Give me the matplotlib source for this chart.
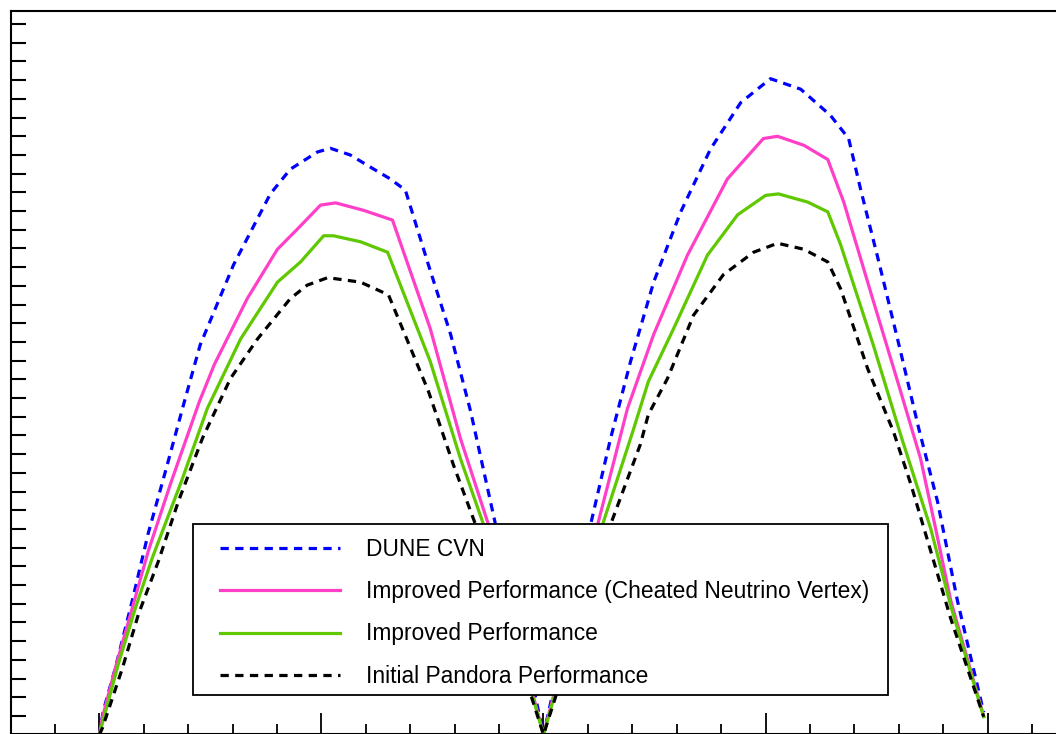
import numpy as np
import matplotlib.pyplot as plt
from matplotlib.patches import Rectangle

plt.rcParams['font.family'] = ['Liberation Sans', 'DejaVu Sans']

# delta_CP / pi  vs  sensitivity (sigma)
x_cvn = [-1.0, -0.991, -0.964, -0.926, -0.890, -0.847, -0.811, -0.773, -0.698, -0.615,
         -0.570, -0.509, -0.480, -0.435, -0.396,
         -0.345, -0.311, -0.259, -0.209, -0.164, -0.108, -0.052, 0.0,
         0.106, 0.151, 0.196, 0.248, 0.309, 0.376, 0.444, 0.511, 0.579, 0.646, 0.687,
         0.714, 0.755, 0.804, 0.845, 0.887, 0.932, 0.991]
y_cvn = [0.0, 0.32, 0.89, 1.79, 2.69, 3.61, 4.40, 5.21, 6.28, 7.23,
         7.56, 7.79, 7.84, 7.75, 7.61,
         7.43, 7.28, 6.28, 5.35, 4.32, 2.81, 1.45, 0.0,
         2.81, 3.96, 4.99, 6.05, 6.99, 7.83, 8.45, 8.77, 8.63, 8.28, 7.97,
         7.29, 6.32, 5.12, 4.09, 3.12, 1.79, 0.30]

x_cheat = [-1.0, -0.993, -0.964, -0.926, -0.890, -0.840, -0.775, -0.741, -0.667, -0.599,
           -0.554, -0.502, -0.468, -0.405,
           -0.340, -0.255, -0.187, -0.124, -0.060, 0.0,
           0.122, 0.189, 0.248, 0.324, 0.414, 0.495, 0.527, 0.586, 0.640, 0.676,
           0.743, 0.804, 0.849, 0.883, 0.917, 0.991]
y_cheat = [0.0, 0.23, 0.89, 1.69, 2.45, 3.35, 4.45, 4.95, 5.83, 6.49,
           6.76, 7.08, 7.11, 7.01,
           6.88, 5.43, 3.96, 2.81, 1.35, 0.0,
           2.81, 4.36, 5.35, 6.41, 7.43, 7.97, 8.00, 7.88, 7.69, 7.12,
           5.79, 4.59, 3.69, 2.75, 1.79, 0.25]

x_impr = [-1.0, -0.957, -0.919, -0.881, -0.815, -0.757, -0.682, -0.599,
          -0.547, -0.495, -0.473, -0.412,
          -0.351, -0.255, -0.187, -0.135, -0.065, 0.0,
          0.133, 0.203, 0.236, 0.293, 0.369, 0.437, 0.500, 0.529, 0.595, 0.640, 0.669,
          0.743, 0.804, 0.872, 0.917, 0.991]
y_impr = [0.0, 0.95, 1.69, 2.36, 3.39, 4.36, 5.29, 6.05,
          6.32, 6.67, 6.67, 6.59,
          6.45, 4.99, 3.69, 2.81, 1.35, 0.0,
          2.81, 4.09, 4.72, 5.43, 6.41, 6.95, 7.21, 7.23, 7.12, 6.99, 6.55,
          5.20, 4.01, 2.75, 1.72, 0.24]

x_init = [-1.0, -0.993, -0.948, -0.912, -0.867, -0.822, -0.768, -0.705, -0.644, -0.570,
          -0.532, -0.486, -0.412, -0.349,
          -0.259, -0.203, -0.153, -0.075, 0.0,
          0.151, 0.218, 0.236, 0.279, 0.338, 0.405, 0.473, 0.527, 0.586, 0.640, 0.669,
          0.730, 0.788, 0.827, 0.854, 0.917, 0.991]
y_init = [0.0, 0.09, 0.89, 1.61, 2.32, 3.12, 3.96, 4.76, 5.29, 5.83,
          6.01, 6.11, 6.05, 5.88,
          4.59, 3.61, 2.81, 1.40, 0.0,
          2.81, 3.88, 4.28, 4.76, 5.61, 6.15, 6.45, 6.57, 6.49, 6.32, 5.96,
          4.89, 4.05, 3.35, 2.81, 1.55, 0.24]

labels = ["DUNE CVN",
          "Improved Performance (Cheated Neutrino Vertex)",
          "Improved Performance",
          "Initial Pandora Performance"]

W, H = 1056, 734
fig = plt.figure(figsize=(W / 100, H / 100), dpi=100)
# frame is cropped: right spine lies outside the picture
ax = fig.add_axes([10.5 / W, 0.5 / H, 1066 / W, 722.5 / H])

lw = 2.3
ax.plot(x_cvn, y_cvn, color='#0000ff', lw=lw, ls=(0, (2.6, 2.0)), label=labels[0])
ax.plot(x_cheat, y_cheat, color='#ff3fc8', lw=lw, label=labels[1])
ax.plot(x_impr, y_impr, color='#5fc800', lw=lw, label=labels[2])
ax.plot(x_init, y_init, color='black', lw=lw, ls=(0, (2.6, 2.0)), label=labels[3])

ax.set_xlim(-1.2, 1.2)
ax.set_ylim(0.016, 9.675)

ax.set_xticks(np.arange(-1.0, 1.01, 0.5))
ax.set_xticks(np.arange(-1.2, 1.21, 0.1), minor=True)
ax.set_yticks(np.arange(0.25, 9.7, 0.25))
ax.tick_params(axis='x', which='major', direction='in', length=15, width=1.3,
               labelbottom=False, top=False)
ax.tick_params(axis='x', which='minor', direction='in', length=7.5, width=1.3, top=False)
ax.tick_params(axis='y', which='major', direction='in', length=10.5, width=1.5,
               labelleft=False, right=False)
for s in ax.spines.values():
    s.set_linewidth(1.5)

# legend box (drawn separately so the padding can differ in x and y)
box = Rectangle((193 / W, 1 - 695 / H), (888 - 193) / W, (695 - 524) / H,
                transform=fig.transFigure, facecolor='white', edgecolor='black',
                linewidth=1.3, zorder=4, clip_on=False)
ax.add_artist(box)

leg = ax.legend(loc='upper left', bbox_to_anchor=(220 / W, 1 - 538 / H),
                bbox_transform=fig.transFigure, borderaxespad=0, borderpad=0,
                fontsize=16.4, frameon=False, handlelength=5.25, handletextpad=1.18,
                labelspacing=0.845)
leg.set_zorder(5)

fig.savefig('out.png', dpi=100)
